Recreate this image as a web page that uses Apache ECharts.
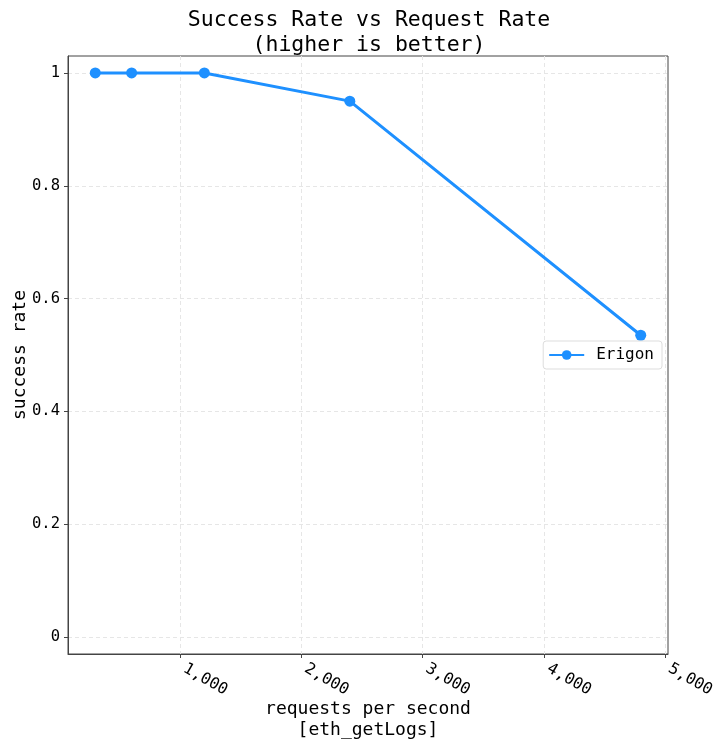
<!DOCTYPE html>
<html><head><meta charset="utf-8">
<script src="https://cdn.jsdelivr.net/npm/echarts@6/dist/echarts.min.js"></script>
<style>html,body{margin:0;padding:0;background:#fff}#c{width:714px;height:740px}</style>
</head><body><div id="c"></div>
<script>
const requestRates = [300, 600, 1200, 2400, 4800];
const successRates = [1.0, 1.0, 1.0, 0.95, 0.535];
const xTicks = [1000, 2000, 3000, 4000, 5000];
const yTicks = [0, 0.2, 0.4, 0.6, 0.8, 1];
const seriesName = 'Erigon';

const FONT = 'DejaVu Sans Mono';
const chart = echarts.init(document.getElementById('c'));
chart.setOption({
  animation: false,
  backgroundColor: '#fff',
  textStyle: {fontFamily: FONT},
  title: {
    text: 'Success Rate vs Request Rate\n(higher is better)',
    left: 364, top: 3, textAlign: 'center',
    textStyle: {fontFamily: FONT, fontSize: 21.5, fontWeight: 'normal', color: '#000', lineHeight: 25}
  },
  grid: {left: 68, right: 46, top: 56, bottom: 86, show: true, borderColor: '#444', borderWidth: 1,
    containLabel: false, outerBoundsMode: 'none'},
  legend: {
    right: 52, top: 341, orient: 'vertical',
    itemWidth: 35, itemHeight: 12, itemGap: 5,
    padding: [6, 8, 6, 5],
    borderColor: '#ddd', borderWidth: 1, borderRadius: 3, backgroundColor: '#fff',
    textStyle: {fontFamily: FONT, fontSize: 16, color: '#000', padding: [0, 0, 0, 7]},
    data: [seriesName]
  },
  xAxis: {
    type: 'value', min: 75, max: 5025,
    name: 'requests per second\n[eth_getLogs]', nameLocation: 'middle', nameGap: 45, nameMoveOverlap: false,
    nameTextStyle: {fontFamily: FONT, fontSize: 18, color: '#000', lineHeight: 21},
    axisLine: {show: true, onZero: false, lineStyle: {color: '#444'}},
    axisTick: {show: true, length: 4, customValues: xTicks, lineStyle: {color: '#444'}},
    axisLabel: {
      customValues: xTicks, rotate: -30, fontFamily: FONT, fontSize: 16, color: '#000', margin: 11,
      padding: [0, 0, 0, 5],
      formatter: v => v.toLocaleString('en-US')
    },
    splitLine: {show: true, lineStyle: {color: '#e6e6e6', type: [4, 3]}}
  },
  yAxis: {
    type: 'value', min: -0.03, max: 1.03,
    name: 'success rate', nameLocation: 'middle', nameGap: 39, nameRotate: 90, nameMoveOverlap: false,
    nameTextStyle: {fontFamily: FONT, fontSize: 18, color: '#000'},
    axisLine: {show: true, onZero: false, lineStyle: {color: '#444'}},
    axisTick: {show: true, length: 4, customValues: yTicks, lineStyle: {color: '#444'}},
    axisLabel: {customValues: yTicks, fontFamily: FONT, fontSize: 15.5, color: '#000', margin: 8,
      formatter: v => String(Math.round(v * 10) / 10)},
    splitLine: {show: true, lineStyle: {color: '#e6e6e6', type: [4, 3]}}
  },
  series: [{
    name: seriesName, type: 'line',
    data: requestRates.map((x, i) => [x, successRates[i]]),
    symbol: 'circle', symbolSize: 11,
    lineStyle: {color: '#1E90FF', width: 3},
    itemStyle: {color: '#1E90FF'}
  }]
});
</script></body></html>
